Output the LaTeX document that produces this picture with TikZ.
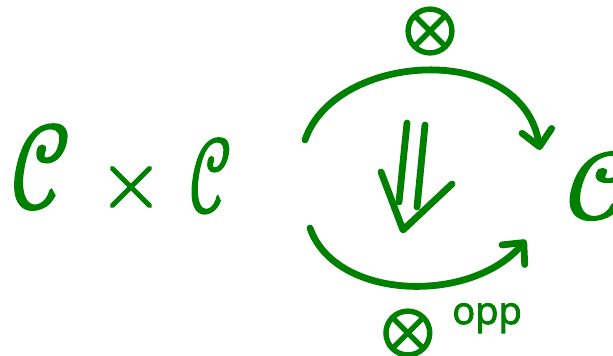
\documentclass[tikz,border=0pt]{standalone}
\usepackage{fontspec}
\usetikzlibrary{arrows.meta}
\newfontfamily\handfont[FakeBold=2]{latinmodern-math.otf}
\newfontfamily\symfont[FakeBold=4]{latinmodern-math.otf}
\newfontfamily\notefont[FakeBold=2.5]{Open Sans}
\definecolor{ink}{RGB}{0,128,0}
\newcommand\narrowC[1]{\scalebox{#1}[1]{𝒞}}
\tikzset{
  pen/.style={draw=ink, line width=3.4pt, line cap=round, line join=round},
  obj/.style={text=ink, inner sep=0pt},
  hook/.style={-{Straight Barb[round, length=8pt, width=15pt]}}
}

\begin{document}
\begin{tikzpicture}[
    x=0.5pt, y=-0.5pt,
    big/.style={obj, font=\handfont\fontsize{60}{60}\selectfont},
    lbl/.style={obj, font=\symfont\fontsize{34}{34}\selectfont}
]
  \useasboundingbox (0,0) rectangle (613,355);

  % Source and target categories
  \node[big, anchor=base west] (CC) at (11,208)
       {\narrowC{0.75}\hspace{14pt}{\fontsize{42}{42}\selectfont×}\hspace{13pt}%
        \raisebox{-2pt}{\fontsize{53}{53}\selectfont\narrowC{0.6}}};
  \node[big, font=\handfont\fontsize{48}{48}\selectfont, anchor=west] (C) at (566,186)
       {\narrowC{1.1}};

  % Functor labels
  \node[lbl] (tens) at (430,31) {⊗};
  \node[lbl, anchor=base west] (tensop) at (381,350)
       {⊗\hspace{9pt}\raisebox{13pt}{\notefont\fontsize{19}{19}\selectfont opp}};

  % Arc ends
  \coordinate (ts) at (305,140);
  \coordinate (te) at (540,150);
  \coordinate (bs) at (310,228);
  \coordinate (be) at (526,240);

  \draw[pen, hook] (ts) .. controls (335,52) and (522,40) .. (te);
  \draw[pen, hook] (bs) .. controls (335,300) and (470,305) .. (be);

  % 2-cell
  \coordinate (a1) at (407,123);
  \coordinate (a2) at (399,202);
  \coordinate (b1) at (425,125);
  \coordinate (b2) at (417,207);
  \coordinate (hl) at (381,172);
  \coordinate (tip) at (403,230);
  \coordinate (hr) at (452,184);
  \draw[pen] (a1) -- (a2);
  \draw[pen] (b1) -- (b2);
  \draw[pen] (hl) -- (tip) -- (hr);

\end{tikzpicture}
\end{document}
